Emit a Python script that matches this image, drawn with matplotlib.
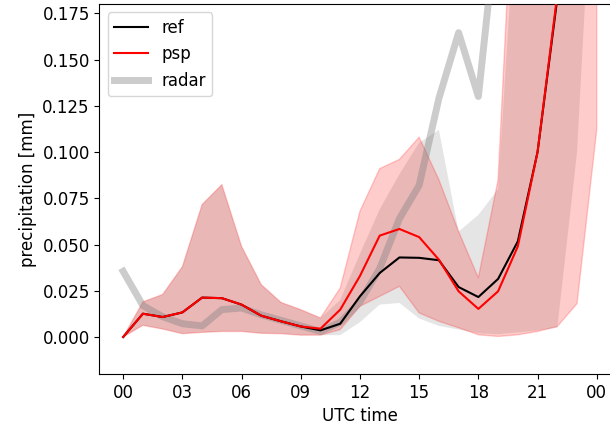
import matplotlib.pyplot as plt

plt.rcParams['font.size'] = 12

# hourly values, 00 UTC to 00 UTC next day
hours = list(range(25))

ref_mean = [0.0, 0.0126, 0.0108, 0.0133, 0.0213, 0.0210, 0.0175, 0.0115, 0.0085, 0.0057, 0.0036,
            0.0072, 0.0220, 0.0346, 0.0430, 0.0428, 0.0415, 0.0270, 0.0216, 0.0314, 0.0517,
            0.1000, 0.1830, 0.2600, 0.3200]
ref_lo = [0.0, 0.0063, 0.0043, 0.0018, 0.0025, 0.0030, 0.0030, 0.0020, 0.0018, 0.0010, 0.0010,
          0.0010, 0.0080, 0.0175, 0.0184, 0.0100, 0.0060, 0.0040, 0.0020, 0.0015, 0.0025,
          0.0035, 0.0050, 0.1000, 0.3000]
ref_hi = [0.0, 0.0190, 0.0230, 0.0380, 0.0716, 0.0824, 0.0490, 0.0283, 0.0187, 0.0148, 0.0103,
          0.0200, 0.0450, 0.0690, 0.0880, 0.1050, 0.1120, 0.0570, 0.0660, 0.0800, 0.2500,
          0.3500, 0.4000, 0.4500, 0.5000]

psp_mean = [0.0, 0.0126, 0.0108, 0.0133, 0.0213, 0.0210, 0.0175, 0.0115, 0.0085, 0.0057, 0.0045,
            0.0148, 0.0330, 0.0548, 0.0584, 0.0540, 0.0418, 0.0247, 0.0152, 0.0247, 0.0490,
            0.1000, 0.1850, 0.2650, 0.3300]
psp_lo = [0.0, 0.0063, 0.0043, 0.0018, 0.0025, 0.0030, 0.0030, 0.0020, 0.0018, 0.0010, 0.0010,
          0.0040, 0.0166, 0.0220, 0.0274, 0.0130, 0.0085, 0.0050, 0.0012, 0.0003, 0.0012,
          0.0030, 0.0057, 0.0180, 0.1120]
psp_hi = [0.0, 0.0190, 0.0230, 0.0380, 0.0716, 0.0824, 0.0490, 0.0283, 0.0187, 0.0148, 0.0103,
          0.0265, 0.0680, 0.0910, 0.0960, 0.1080, 0.0850, 0.0570, 0.0320, 0.0850, 0.3000,
          0.4000, 0.4500, 0.5000, 0.5500]

radar = [0.0355, 0.0170, 0.0110, 0.0072, 0.0060, 0.0148, 0.0157, 0.0120, 0.0090, 0.0060, 0.0030,
         0.0080, 0.0190, 0.0370, 0.0640, 0.0820, 0.1290, 0.1645, 0.1300, 0.2300, 0.3000,
         0.3500, 0.4000, 0.4500, 0.5000]

xticks = list(range(0, 25, 3))
xticklabels = ['00', '03', '06', '09', '12', '15', '18', '21', '00']

fig = plt.figure(figsize=(6.1, 4.3), dpi=100)
ax = fig.add_axes([0.1631, 0.1302, 0.854, 0.8605])

# ensemble spread of both runs
ax.fill_between(hours, ref_lo, ref_hi, color='grey', alpha=0.2, lw=0)
ax.fill_between(hours, psp_lo, psp_hi, color='red', alpha=0.2)
ax.plot(hours, ref_mean, color='black', lw=1.5, label='ref', zorder=4)
ax.plot(hours, psp_mean, color='red', lw=1.5, label='psp', zorder=5)
ax.plot(hours, radar, color='grey', alpha=0.4, lw=5, label='radar', zorder=3)

ax.set_xlim(-1.2, 25.2)
ax.set_ylim(-0.02, 0.18)
ax.set_xticks(xticks)
ax.set_xticklabels(xticklabels)
ax.set_xlabel('UTC time')
ax.set_ylabel('precipitation [mm]')
ax.legend(loc='upper left')

fig.savefig('out.png', dpi=100)
